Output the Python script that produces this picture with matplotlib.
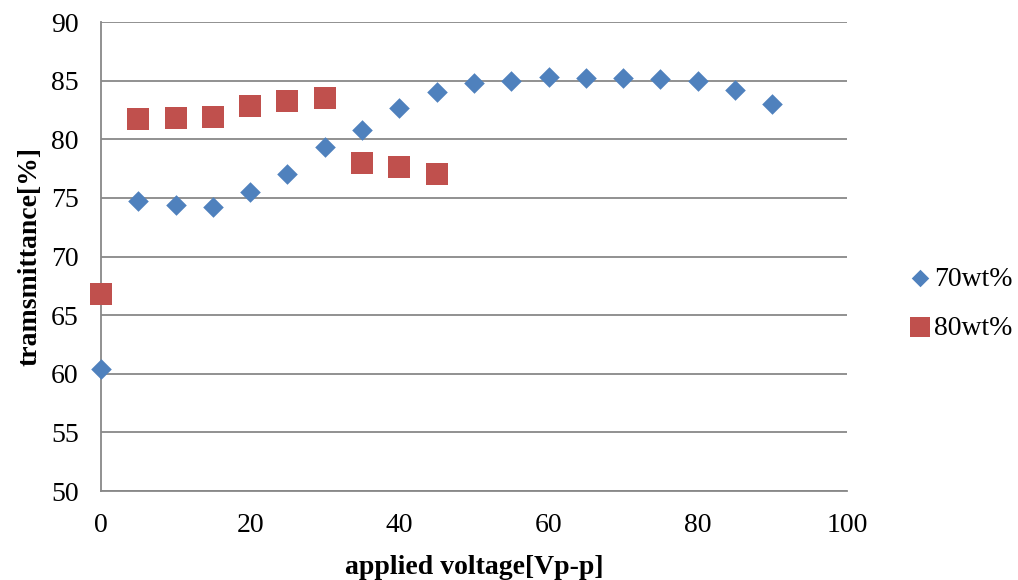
import matplotlib
matplotlib.use("Agg")
import matplotlib.pyplot as plt

x70 = [0, 5, 10, 15, 20, 25, 30, 35, 40, 45, 50, 55, 60, 65, 70, 75, 80, 85, 90]
y70 = [60.4, 74.7, 74.4, 74.2, 75.5, 77.0, 79.3, 80.8, 82.7, 84.0, 84.8, 85.0, 85.3, 85.2, 85.2, 85.1, 85.0, 84.2, 83.0]
x80 = [0, 5, 10, 15, 20, 25, 30, 35, 40, 45]
y80 = [66.8, 81.7, 81.8, 81.9, 82.8, 83.3, 83.5, 78.0, 77.6, 77.0]
xticks = [0, 20, 40, 60, 80, 100]
yticks = [50, 55, 60, 65, 70, 75, 80, 85, 90]

plt.rcParams['font.family'] = ['Liberation Serif', 'DejaVu Serif']

fig = plt.figure(figsize=(10.18, 5.8), dpi=100)
ax = fig.add_axes([0.0992, 0.1534, 0.7328, 0.8086])

ax.set_axisbelow(True)
ax.grid(axis='y', color='#888888', linewidth=1.3)
ax.scatter(x70, y70, marker='D', s=110, color='#4F81BD', label='70wt%', zorder=3, linewidths=0, clip_on=False)
ax.scatter(x80, y80, marker='s', s=260, color='#C0504D', label='80wt%', zorder=3, linewidths=0, clip_on=False)

ax.set_xlim(0, 100)
ax.set_ylim(50, 90)
ax.set_xticks(xticks)
ax.set_yticks(yticks)
ax.tick_params(length=0, labelsize=20)
ax.tick_params(axis='y', pad=16)
ax.tick_params(axis='x', pad=16)
for s in ['top', 'right']:
    ax.spines[s].set_visible(False)
for s in ['left', 'bottom']:
    ax.spines[s].set_color('#888888')
    ax.spines[s].set_linewidth(1.3)

ax.set_xlabel('applied voltage[Vp-p]', fontsize=20, fontweight='bold', labelpad=12)
ax.set_ylabel('tramsmittance[%]', fontsize=20, fontweight='bold', labelpad=6)

leg = fig.legend(loc='center left', bbox_to_anchor=(0.890, 0.477), frameon=False,
                 fontsize=20, handletextpad=0.0, labelspacing=0.85, markerscale=0.85,
                 handlelength=1.0, borderpad=0, borderaxespad=0)

fig.savefig('out.png', dpi=100)
